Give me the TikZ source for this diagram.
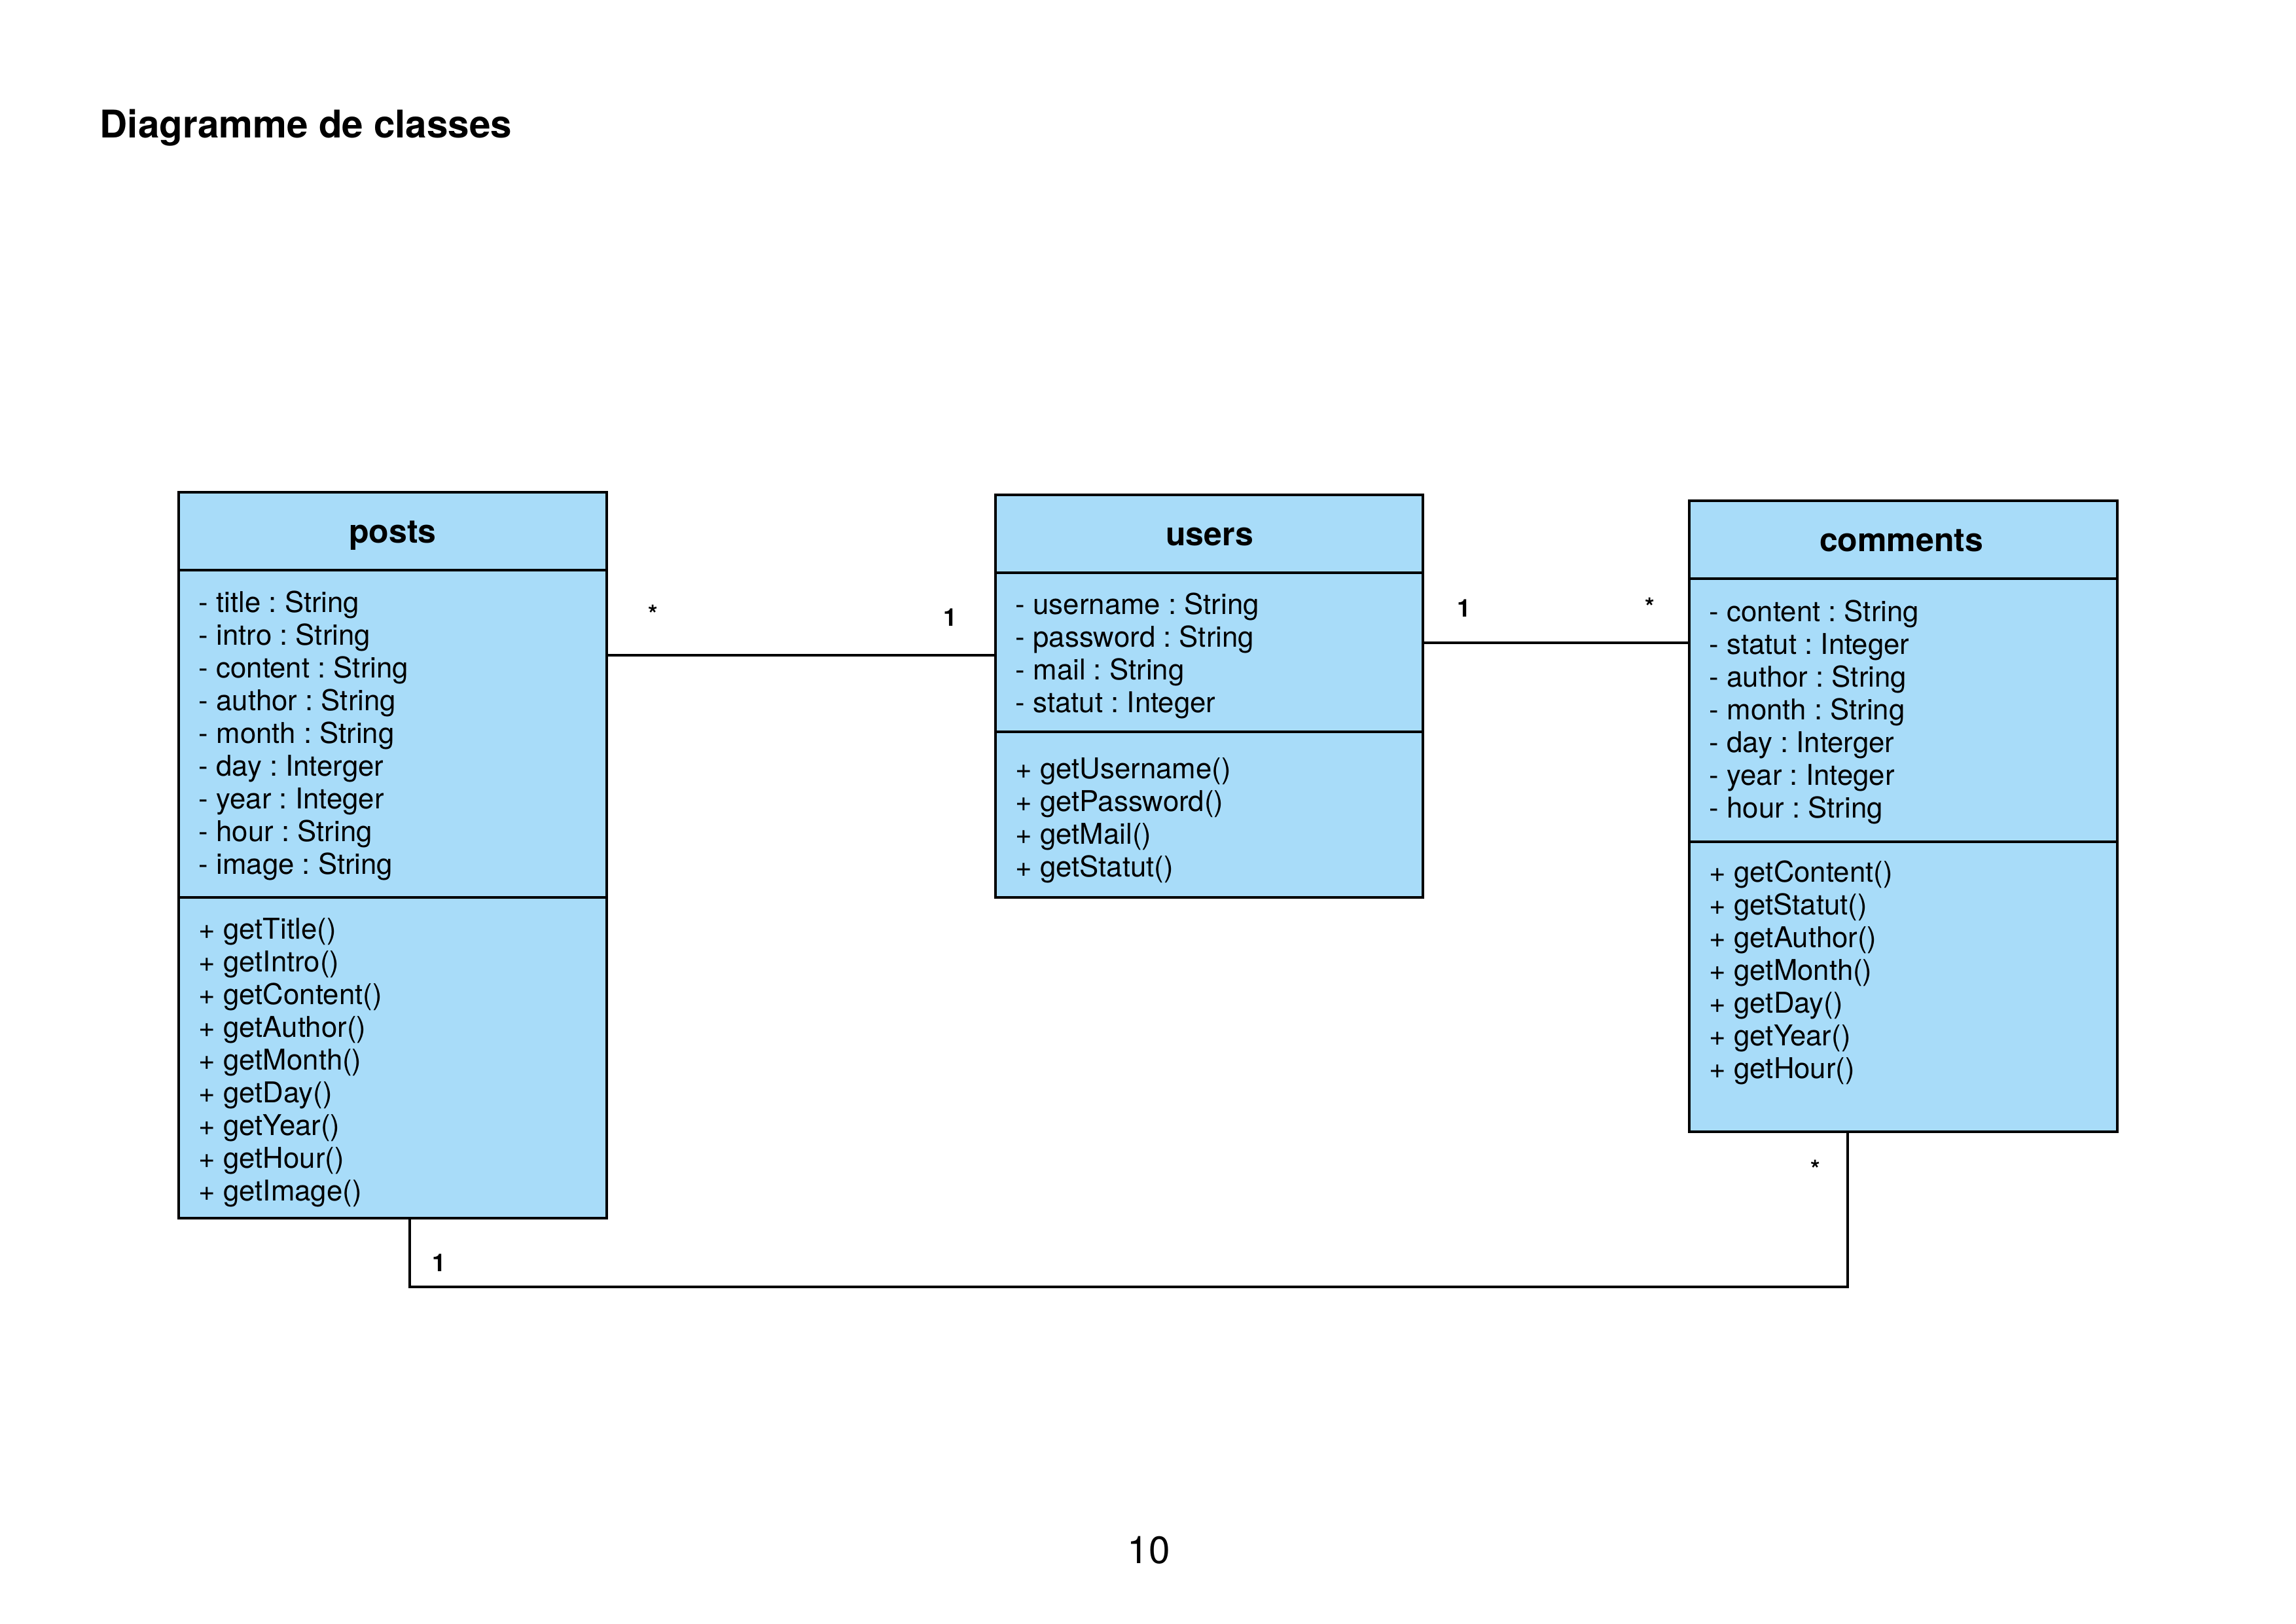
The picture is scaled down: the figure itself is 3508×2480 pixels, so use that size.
\documentclass[tikz,border=0pt]{standalone}
\usepackage{fontspec}
\setmainfont{TeX Gyre Heros}
\usetikzlibrary{fit}
\frenchspacing
\definecolor{umlblue}{RGB}{168,220,249}
\tikzset{
  compart/.style={draw=black, fill=umlblue, line width=0.8pt, inner sep=0pt},
  attr/.style={anchor=base west, inner sep=0pt, font=\fontsize{10.5}{12}\selectfont},
  head/.style={anchor=base, inner sep=0pt, font=\fontsize{12}{14}\selectfont\bfseries},
  mult/.style={anchor=center, inner sep=0pt, font=\fontsize{9}{10}\selectfont\bfseries},
  link/.style={draw=black, line width=0.8pt},
}
\begin{document}
\begin{tikzpicture}[x=0.24pt, y=-0.24pt]
\useasboundingbox (0,0) rectangle (3508,2480);

% title
\node[anchor=base west, inner sep=0pt, font=\fontsize{14}{16}\selectfont\bfseries] (title) at (152,210) {Diagramme de classes};

% ---- posts
\node[compart, fit={(273,752) (927,871)}] (posts-h) {};
\node[compart, fit={(273,871) (927,1371)}] (posts-a) {};
\node[compart, fit={(273,1371) (927,1861)}] (posts-m) {};
\node[head] (posts-t) at (600,829) {posts};
\foreach \t [count=\i from 0] in {{- title : String},{- intro : String},{- content : String},{- author : String},{- month : String},{- day : Interger},{- year : Integer},{- hour : String},{- image : String}}
  \node[attr] (pa\i) at (303,935+50*\i) {\t};
\foreach \t [count=\i from 0] in {{+ getTitle()},{+ getIntro()},{+ getContent()},{+ getAuthor()},{+ getMonth()},{+ getDay()},{+ getYear()},{+ getHour()},{+ getImage()}}
  \node[attr] (pm\i) at (303,1434+50*\i) {\t};

% ---- users
\node[compart, fit={(1521,756) (2174,875)}] (users-h) {};
\node[compart, fit={(1521,875) (2174,1118)}] (users-a) {};
\node[compart, fit={(1521,1118) (2174,1371)}] (users-m) {};
\node[head] (users-t) at (1848,833) {users};
\foreach \t [count=\i from 0] in {{- username : String},{- password : String},{- mail : String},{- statut : Integer}}
  \node[attr] (ua\i) at (1551,938+50*\i) {\t};
\foreach \t [count=\i from 0] in {{+ getUsername()},{+ getPassword()},{+ getMail()},{+ getStatut()}}
  \node[attr] (um\i) at (1551,1189+50*\i) {\t};

% ---- comments
\node[compart, fit={(2581,765) (3235,884)}] (comments-h) {};
\node[compart, fit={(2581,884) (3235,1286)}] (comments-a) {};
\node[compart, fit={(2581,1286) (3235,1729)}] (comments-m) {};
\node[head] (comments-t) at (2905,842) {comments};
\foreach \t [count=\i from 0] in {{- content : String},{- statut : Integer},{- author : String},{- month : String},{- day : Interger},{- year : Integer},{- hour : String}}
  \node[attr] (ca\i) at (2611,949+50*\i) {\t};
\foreach \t [count=\i from 0] in {{+ getContent()},{+ getStatut()},{+ getAuthor()},{+ getMonth()},{+ getDay()},{+ getYear()},{+ getHour()}}
  \node[attr] (cm\i) at (2611,1347+50*\i) {\t};

% ---- connectors
\coordinate (lowleft) at (626,1966);
\coordinate (lowright) at (2823,1966);
\draw[link] (posts-a.east |- 0,1001) -- (users-a.west |- 0,1001);
\draw[link] (users-a.east |- 0,982) -- (comments-a.west |- 0,982);
\draw[link] (posts-m.south -| lowleft) -- (lowleft) -- (lowright) -- (comments-m.south -| lowright);

% ---- multiplicities
\node[mult] (m1) at (998,938) {*};
\node[mult] (m2) at (1452,943) {1};
\node[mult] (m3) at (2237,929) {1};
\node[mult] (m4) at (2521,927) {*};
\node[mult] (m5) at (2774,1786) {*};
\node[mult] (m6) at (671,1929) {1};

% page number
\node[anchor=base, inner sep=0pt, font=\fontsize{14}{16}\selectfont] (page) at (1755,2388) {10};
\end{tikzpicture}
\end{document}
